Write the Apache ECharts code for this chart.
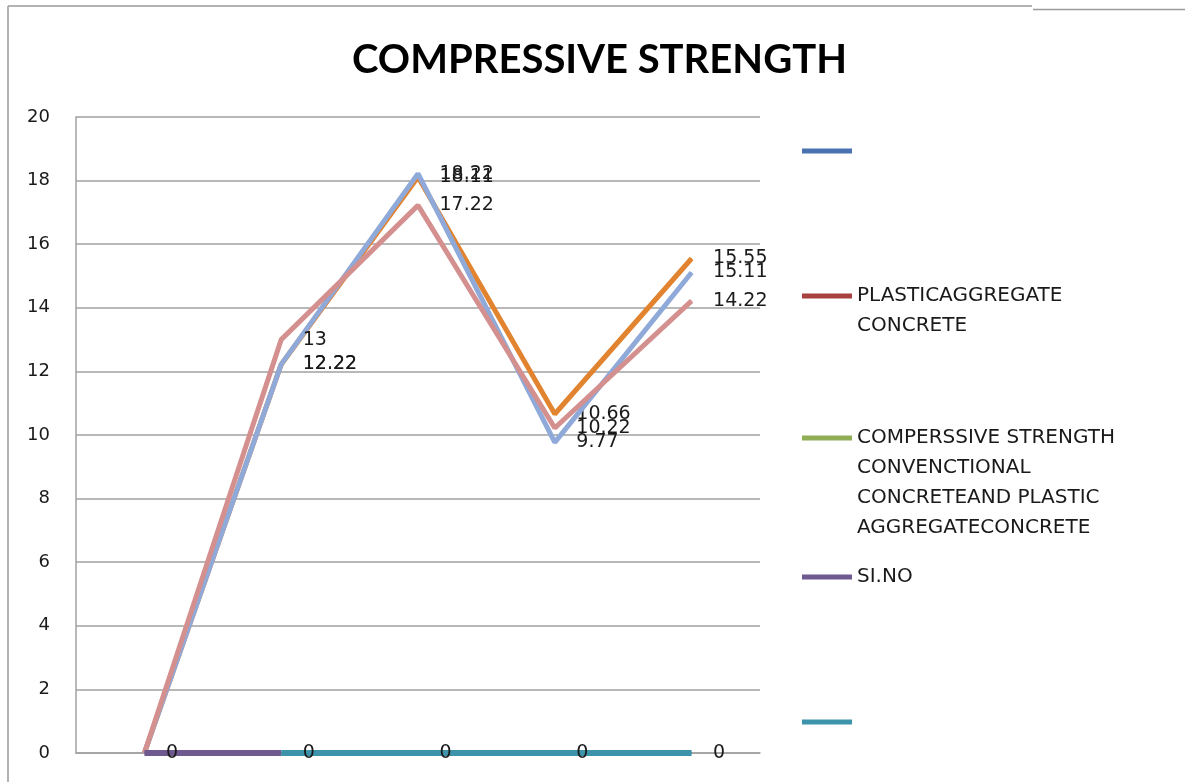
<!DOCTYPE html>
<html>
<head>
<meta charset="utf-8">
<title>Compressive Strength</title>
<script src="https://cdn.jsdelivr.net/npm/echarts@6/dist/echarts.min.js"></script>
<style>
  html, body { margin: 0; padding: 0; background: #ffffff; }
  #chart { width: 1185px; height: 782px; }
</style>
</head>
<body>
<div id="chart"></div>
<script>
// Test points along the horizontal axis
const categories = ['1', '2', '3', '4', '5'];

// Compressive strength readings (N/mm²)
const orangeSeries = [0, 12.22, 18.11, 10.66, 15.55];
const lightBlueSeries = [0, 12.22, 18.22, 9.77, 15.11];
const pinkSeries = [0, 13, 17.22, 10.22, 14.22];

// Serial-number series lying on the zero line
const siNo = [0, 0, null, null, null];
const baseline = [null, 0, 0, 0, 0];

// Legend-only entries
const seriesA = [];
const plasticAggregate = [];
const conventionalVsPlastic = [];

// Y axis
const yMin = 0;
const yMax = 20;
const yStep = 2;

const labelFont = 'DejaVu Sans';
const textFont = 'DejaVu Sans';

const hideZero = p => (p.value === 0 || p.value == null) ? '' : String(p.value);

function valueLabel(formatter) {
  return {
    show: true,
    position: 'right',
    distance: 21,
    color: '#1a1a1a',
    fontFamily: labelFont,
    fontSize: 19,
    formatter: formatter
  };
}

function lineSeries(name, data, color, width, z, label) {
  return {
    name: name,
    type: 'line',
    data: data,
    symbol: 'circle',
    symbolSize: 1,
    showSymbol: true,
    connectNulls: false,
    itemStyle: { color: color },
    lineStyle: { color: color, width: width },
    label: label || { show: false },
    z: z,
    animation: false
  };
}

const names = {
  a: ' ',
  plastic: 'PLASTICAGGREGATE\nCONCRETE',
  conv: 'COMPERSSIVE STRENGTH\nCONVENCTIONAL\nCONCRETEAND PLASTIC\nAGGREGATECONCRETE',
  sino: 'SI.NO',
  base: '  '
};

const lineH = 30;
// One legend per entry: the icon sits level with the first text line,
// so blank lines are put in front of multi-line names to keep the block centred there.
function legendAt(name, iconY, lines) {
  const total = 2 * lines - 1;
  return {
    data: [name],
    orient: 'vertical',
    left: 802,
    top: Math.round(iconY - total * lineH / 2),
    padding: 0,
    itemWidth: 50,
    itemHeight: 5,
    icon: 'rect',
    selectedMode: false,
    formatter: n => '\n'.repeat(lines - 1) + n,
    textStyle: {
      fontFamily: textFont,
      fontSize: 20,
      color: '#1a1a1a',
      lineHeight: lineH
    }
  };
}

const chart = echarts.init(document.getElementById('chart'), null, { renderer: 'canvas' });

chart.setOption({
  backgroundColor: '#ffffff',
  animation: false,
  title: {
    text: 'COMPRESSIVE STRENGTH',
    left: 352,
    top: 38,
    padding: 0,
    textStyle: {
      fontFamily: 'Lato',
      fontWeight: 'bold',
      fontSize: 40,
      lineHeight: 44,
      color: '#000000'
    }
  },
  legend: [
    legendAt(names.a, 151, 1),
    legendAt(names.plastic, 296, 2),
    legendAt(names.conv, 438, 4),
    legendAt(names.sino, 577, 1),
    legendAt(names.base, 722, 1)
  ],
  grid: { left: 76, right: 425, top: 117, bottom: 29, containLabel: false },
  xAxis: {
    type: 'category',
    data: categories,
    boundaryGap: true,
    axisLine: { show: true, lineStyle: { color: '#a0a0a0', width: 1.5 } },
    axisTick: { show: false },
    axisLabel: { show: false },
    splitLine: { show: false }
  },
  yAxis: {
    type: 'value',
    min: yMin,
    max: yMax,
    interval: yStep,
    axisLine: { show: true, lineStyle: { color: '#a0a0a0', width: 1.5 } },
    axisTick: { show: false },
    axisLabel: {
      margin: 26,
      color: '#1a1a1a',
      fontFamily: textFont,
      fontSize: 18
    },
    splitLine: { show: true, lineStyle: { color: '#a0a0a0', width: 1.5 } }
  },
  graphic: [
    { type: 'line', shape: { x1: 8, y1: 6, x2: 8, y2: 782 }, style: { stroke: '#9a9a9a', lineWidth: 1.5 } },
    { type: 'line', shape: { x1: 8, y1: 6, x2: 1032, y2: 6 }, style: { stroke: '#9a9a9a', lineWidth: 1.5 } },
    { type: 'line', shape: { x1: 1033, y1: 9.5, x2: 1185, y2: 9.5 }, style: { stroke: '#9a9a9a', lineWidth: 1.5 } }
  ],
  series: [
    lineSeries(names.a, seriesA, '#4a72b0', 5, 1),
    lineSeries(names.plastic, plasticAggregate, '#a8403f', 5, 1),
    lineSeries(names.conv, conventionalVsPlastic, '#8fae55', 5, 1),
    lineSeries('Conventional', orangeSeries, '#e2832f', 5, 3, valueLabel(hideZero)),
    lineSeries('Plastic 1', lightBlueSeries, '#8fa9d9', 5, 4, valueLabel(hideZero)),
    lineSeries('Plastic 2', pinkSeries, '#d3908f', 5, 5, valueLabel(hideZero)),
    lineSeries(names.sino, siNo, '#6f5a8f', 6, 6, valueLabel(p => p.dataIndex === 0 ? '0' : '')),
    lineSeries(names.base, baseline, '#3d93a9', 6, 6, valueLabel(p => p.value == null ? '' : '0'))
  ]
});
</script>
</body>
</html>
